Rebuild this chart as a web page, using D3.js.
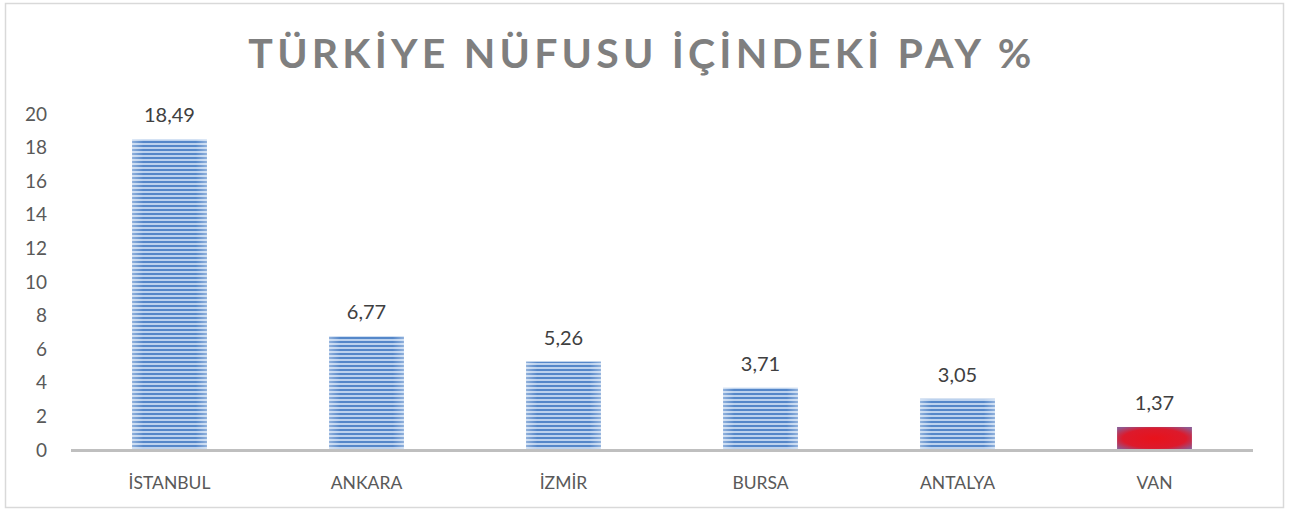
<!DOCTYPE html>
<html>
<head>
<meta charset="utf-8">
<script src="https://cdn.jsdelivr.net/npm/d3@7"></script>
<style>
  body { margin: 0; background: #fff; }
  svg { display: block; }
</style>
</head>
<body>
<div id="chart"></div>
<script>
// Dados do gráfico
const cities = ['İSTANBUL', 'ANKARA', 'İZMİR', 'BURSA', 'ANTALYA', 'VAN'];
const shares = [18.49, 6.77, 5.26, 3.71, 3.05, 1.37];
const yTicks = [0, 2, 4, 6, 8, 10, 12, 14, 16, 18, 20];
const highlighted = ['VAN'];

const width = 1293, height = 513;
const margin = { top: 114, right: 40, bottom: 63, left: 71 };

const svg = d3.select('#chart')
  .append('svg')
  .attr('width', width)
  .attr('height', height);

const defs = svg.append('defs');

// Listras horizontais das barras azuis
const pat = defs.append('pattern')
  .attr('id', 'stripes')
  .attr('patternUnits', 'userSpaceOnUse')
  .attr('width', 8).attr('height', 4);
pat.append('rect').attr('width', 8).attr('height', 4).attr('fill', '#bcd2ee');
pat.append('rect').attr('y', 1).attr('width', 8).attr('height', 2).attr('fill', '#5587c9');

// Brilho nas bordas
const edge = defs.append('linearGradient').attr('id', 'edge');
edge.append('stop').attr('offset', '0%').attr('stop-color', '#fff').attr('stop-opacity', 0.35);
edge.append('stop').attr('offset', '15%').attr('stop-color', '#fff').attr('stop-opacity', 0);
edge.append('stop').attr('offset', '85%').attr('stop-color', '#fff').attr('stop-opacity', 0);
edge.append('stop').attr('offset', '100%').attr('stop-color', '#fff').attr('stop-opacity', 0.35);

// Barra vermelha
const red = defs.append('radialGradient').attr('id', 'red')
  .attr('cx', '50%').attr('cy', '50%').attr('r', '65%');
red.append('stop').attr('offset', '0%').attr('stop-color', '#e8121b');
red.append('stop').attr('offset', '65%').attr('stop-color', '#dc1a2c');
red.append('stop').attr('offset', '100%').attr('stop-color', '#8e5a92');

// Moldura
svg.append('rect')
  .attr('x', 5.5).attr('y', 3.5)
  .attr('width', 1278).attr('height', 504)
  .attr('fill', '#fff')
  .attr('stroke', '#d9d9d9')
  .attr('stroke-width', 1.5);

// Titulo
svg.append('text')
  .attr('x', 642).attr('y', 68)
  .attr('text-anchor', 'middle')
  .attr('font-family', 'Lato, sans-serif')
  .attr('font-weight', 'bold')
  .attr('font-size', 41)
  .attr('letter-spacing', 4.2)
  .attr('fill', '#7f7f7f')
  .text('TÜRKİYE NÜFUSU İÇİNDEKİ PAY %');

// Escalas
const x = d3.scaleBand()
  .domain(cities)
  .range([margin.left, width - margin.right])
  .paddingInner(0.62)
  .paddingOuter(0.31);

const y = d3.scaleLinear()
  .domain([0, 20])
  .range([450, margin.top]);

// Eixo Y
const yAxis = svg.append('g')
  .attr('transform', 'translate(47,0)')
  .call(d3.axisLeft(y).tickValues(yTicks).tickSize(0).tickPadding(0));
yAxis.select('.domain').remove();
yAxis.selectAll('text')
  .attr('font-family', 'Lato, sans-serif')
  .attr('font-size', 19)
  .attr('fill', '#595959');

// Barras
const bars = svg.append('g');
cities.forEach((c, i) => {
  const isRed = highlighted.includes(c);
  const bx = x(c), bw = x.bandwidth(), by = y(shares[i]), bh = y(0) - y(shares[i]);
  bars.append('rect')
    .attr('x', bx).attr('y', by).attr('width', bw).attr('height', bh)
    .attr('fill', isRed ? 'url(#red)' : 'url(#stripes)');
  if (!isRed) {
    bars.append('rect')
      .attr('x', bx).attr('y', by).attr('width', bw).attr('height', bh)
      .attr('fill', 'url(#edge)');
  }
});

// Linha do eixo X
svg.append('line')
  .attr('x1', margin.left).attr('x2', width - margin.right)
  .attr('y1', y(0) + 0.5).attr('y2', y(0) + 0.5)
  .attr('stroke', '#bfbfbf')
  .attr('stroke-width', 3);

// Rótulos de dados
svg.append('g').selectAll('text')
  .data(shares)
  .join('text')
  .attr('x', (d, i) => x(cities[i]) + x.bandwidth() / 2)
  .attr('y', d => y(d) - 17)
  .attr('text-anchor', 'middle')
  .attr('font-family', 'Lato, sans-serif')
  .attr('font-size', 20)
  .attr('fill', '#404040')
  .text(d => d.toFixed(2).replace('.', ','));

// Eixo X
const xAxis = svg.append('g')
  .attr('transform', 'translate(0,489)')
  .call(d3.axisBottom(x).tickSize(0).tickPadding(0));
xAxis.select('.domain').remove();
xAxis.selectAll('text')
  .attr('dy', 0)
  .attr('font-family', 'Lato, sans-serif')
  .attr('font-size', 17.5)
  .attr('fill', '#595959');
</script>
</body>
</html>
